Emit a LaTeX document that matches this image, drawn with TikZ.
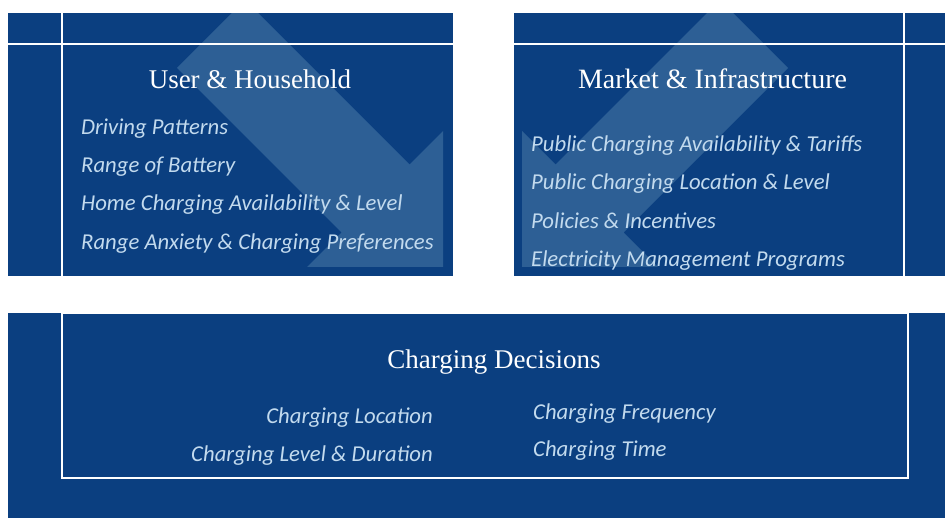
\documentclass[tikz,border=0pt]{standalone}
\usepackage{fontspec}
\setmainfont{Liberation Serif}
\newfontfamily\itemfont{Carlito}
\definecolor{bgblue}{HTML}{0B3F80}
\definecolor{arrowblue}{HTML}{2D5F95}
\definecolor{itemblue}{HTML}{C2DAEE}
\tikzset{
  panel/.style={fill=bgblue, draw=none},
  divider/.style={draw=white, line width=2pt},
  bigarrow/.style={fill=arrowblue, draw=none},
  titletext/.style={text=white, font=\fontsize{27}{30}\selectfont, inner sep=0pt, anchor=base},
  itemtext/.style={text=itemblue, font=\itemfont\itshape\fontsize{22.7}{26}\selectfont, inner sep=0pt, anchor=base west},
  itemtextr/.style={itemtext, anchor=base east}
}
\begin{document}
\begin{tikzpicture}[x=1pt,y=-1pt]
\useasboundingbox (0,0) rectangle (945,518);
% top-left panel
\fill[panel] (8,13) rectangle (453,276);
\begin{scope}
  \clip (8,13.5) rectangle (453,276);
  \fill[bigarrow] (245,0) -- (177,68) -- (341.5,232.5) -- (307,267) -- (443,267) -- (443,131) -- (409.5,164.5) -- cycle;
\end{scope}
\draw[divider] (8,44) -- (453,44);
\draw[divider] (62,13) -- (62,276);
% top-right panel
\fill[panel] (514,13) rectangle (945,276);
\begin{scope}
  \clip (514,13.5) rectangle (945,276);
  \fill[bigarrow] (720.2,0) -- (788.2,68) -- (623.7,232.5) -- (658.2,267) -- (522.2,267) -- (522.2,131) -- (555.7,164.5) -- cycle;
\end{scope}
\draw[divider] (514,44) -- (945,44);
\draw[divider] (904,13) -- (904,276);
% bottom panel
\fill[panel] (8,313) rectangle (945,518);
\draw[divider] (62,313) rectangle (908,478);
% texts
\node[titletext] (t1) at (250,89) {User \& Household};
\node[itemtext] (a1) at (81,134.3) {Driving Patterns};
\node[itemtext] (a2) at (81,172.6) {Range of Battery};
\node[itemtext] (a3) at (81,211) {Home Charging Availability \& Level};
\node[itemtext] (a4) at (81,249.3) {Range Anxiety \& Charging Preferences};
\node[titletext, font=\fontsize{28}{31}\selectfont] (t2) at (712.5,89) {Market \& Infrastructure};
\node[itemtext] (b1) at (531,151.7) {Public Charging Availability \& Tariffs};
\node[itemtext] (b2) at (531,189.8) {Public Charging Location \& Level};
\node[itemtext] (b3) at (531,228.3) {Policies \& Incentives};
\node[itemtext] (b4) at (531,266.7) {Electricity Management Programs};
\node[titletext] (t3) at (494,369) {Charging Decisions};
\node[itemtextr] (c1) at (433,423.3) {Charging Location};
\node[itemtextr] (c2) at (433,461.7) {Charging Level \& Duration};
\node[itemtext] (c3) at (533,419.3) {Charging Frequency};
\node[itemtext] (c4) at (533,456.7) {Charging Time};
\end{tikzpicture}
\end{document}
